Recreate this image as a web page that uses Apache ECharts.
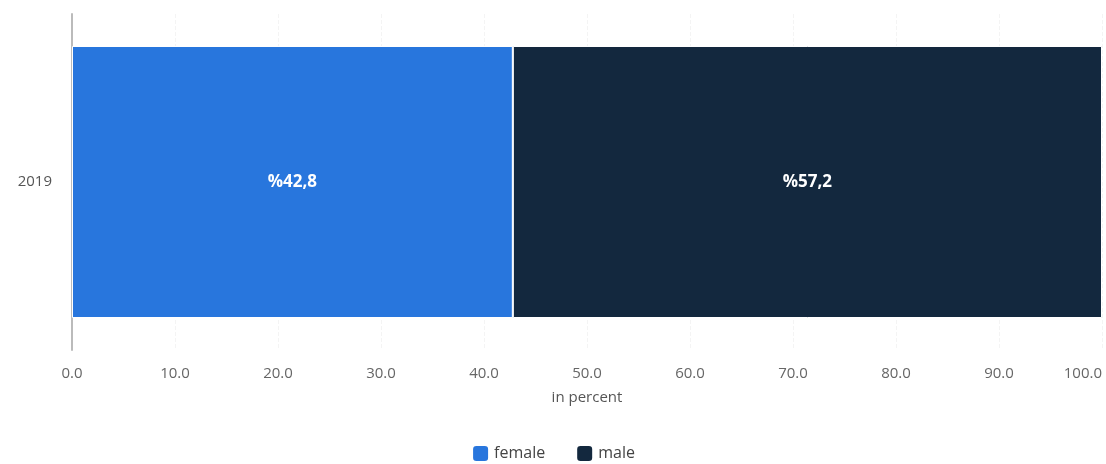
<!DOCTYPE html>
<html><head><meta charset="utf-8">
<script src="https://cdn.jsdelivr.net/npm/echarts@6/dist/echarts.min.js"></script>
<style>html,body{margin:0;padding:0;background:#fff}#c{width:1106px;height:464px}</style>
</head><body><div id="c"></div>
<script>
const categories = ['2019'];
const female = [42.8];
const male = [57.2];
const seriesNames = ['female', 'male'];
const xTicks = [0, 10, 20, 30, 40, 50, 60, 70, 80, 90, 100];

const chart = echarts.init(document.getElementById('c'));
const fmt = v => '%' + v.toFixed(1).replace('.', ',');
chart.setOption({
  animation: false,
  grid: { left: 72, right: 4, top: 14, bottom: 114, outerBoundsMode: 'none', containLabel: false },
  legend: {
    bottom: -4, left: 'center', itemWidth: 17, itemHeight: 17, itemGap: 30,
    icon: 'roundRect',
    textStyle: { fontSize: 16, color: '#444', fontFamily: 'Open Sans' },
    data: seriesNames
  },
  xAxis: {
    type: 'value', min: 0, max: 100, interval: 10,
    name: 'in percent', nameLocation: 'middle', nameGap: 40,
    nameTextStyle: { fontSize: 15, color: '#555', fontFamily: 'Open Sans' },
    axisLabel: { formatter: v => v.toFixed(1), fontSize: 15, color: '#666', margin: 16, fontFamily: 'Open Sans', alignMaxLabel: 'right' },
    axisLine: { show: false }, axisTick: { show: false },
    splitLine: { show: true, lineStyle: { color: '#f4f4f4', type: 'dashed' } }
  },
  yAxis: {
    type: 'category', data: categories,
    axisLine: { show: true, lineStyle: { color: '#bbb', width: 2 } },
    axisTick: { show: false },
    axisLabel: { fontSize: 15, color: '#555', margin: 20, fontFamily: 'Open Sans' }
  },
  series: [
    { name: seriesNames[0], type: 'bar', stack: 's', data: female, barWidth: 272,
      itemStyle: { color: '#2876dd', borderColor: '#fff', borderWidth: 1 },
      label: { show: true, position: 'inside', formatter: p => fmt(p.value), color: '#fff', fontSize: 17, fontWeight: 'bold', fontFamily: 'Open Sans' } },
    { name: seriesNames[1], type: 'bar', stack: 's', data: male, barWidth: 272,
      itemStyle: { color: '#13283e', borderColor: '#fff', borderWidth: 1 },
      label: { show: true, position: 'inside', formatter: p => fmt(p.value), color: '#fff', fontSize: 17, fontWeight: 'bold', fontFamily: 'Open Sans' } }
  ]
});
</script></body></html>
